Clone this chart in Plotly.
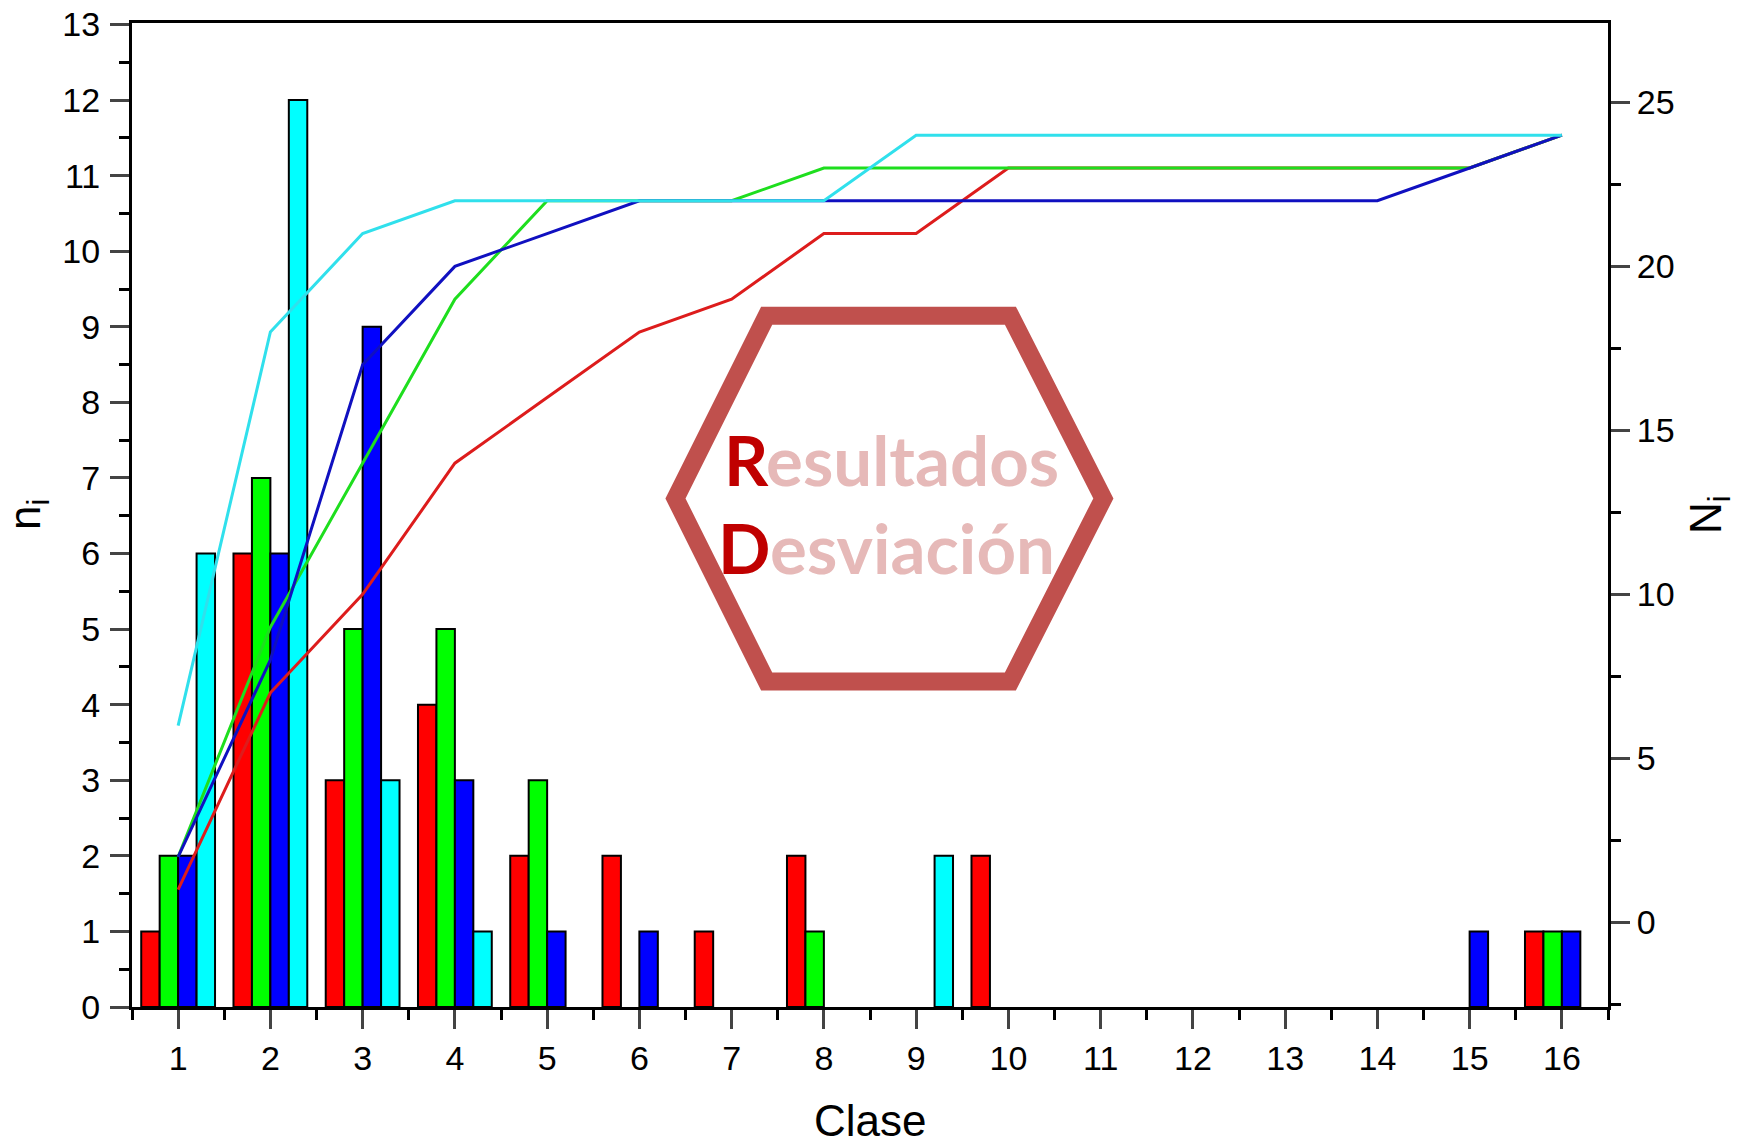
import plotly.graph_objects as go

# ---- data ----
classes = list(range(1, 17))
tick_labels = [str(c) for c in classes]

red_ni = [1, 6, 3, 4, 2, 2, 1, 2, 0, 2, 0, 0, 0, 0, 0, 1]
green_ni = [2, 7, 5, 5, 3, 0, 0, 1, 0, 0, 0, 0, 0, 0, 0, 1]
blue_ni = [2, 6, 9, 3, 1, 1, 0, 0, 0, 0, 0, 0, 0, 0, 1, 1]
cyan_ni = [6, 12, 3, 1, 0, 0, 0, 0, 2, 0, 0, 0, 0, 0, 0, 0]

red_Ni = [1, 7, 10, 14, 16, 18, 19, 21, 21, 23, 23, 23, 23, 23, 23, 24]
green_Ni = [2, 9, 14, 19, 22, 22, 22, 23, 23, 23, 23, 23, 23, 23, 23, 24]
blue_Ni = [2, 8, 17, 20, 21, 22, 22, 22, 22, 22, 22, 22, 22, 22, 23, 24]
cyan_Ni = [6, 18, 21, 22, 22, 22, 22, 22, 24, 24, 24, 24, 24, 24, 24, 24]

bar_colors = ["#ff0000", "#00ff00", "#0000ff", "#00ffff"]
line_colors = ["#dd1c1c", "#1ede1e", "#1010c0", "#30e0ec"]

W, H = 1752, 1143
L, R, T, B = 124, 152, 15, 144

fig = go.Figure()
for vals, col in zip([red_ni, green_ni, blue_ni, cyan_ni], bar_colors):
    fig.add_trace(go.Bar(x=classes, y=[v if v else None for v in vals],
                         marker=dict(color=col, line=dict(color="black", width=2)),
                         yaxis="y", showlegend=False))
for vals, col in zip([red_Ni, green_Ni, blue_Ni, cyan_Ni], line_colors):
    fig.add_trace(go.Scatter(x=classes, y=vals, mode="lines", line=dict(color=col, width=3),
                             yaxis="y2", showlegend=False))

tickfont = dict(family="Liberation Sans, Arial", size=34, color="black")

fig.update_layout(
    width=W, height=H,
    margin=dict(l=L, r=R, t=T, b=B, autoexpand=False),
    paper_bgcolor="white", plot_bgcolor="white",
    barmode="group", bargap=0.2, bargroupgap=0,
    xaxis=dict(range=[0.5, 16.5], tickvals=classes, ticktext=tick_labels, ticks="outside",
               ticklen=19, tickwidth=3, showline=True, linewidth=3, linecolor="black",
               mirror=True, showgrid=False, zeroline=False, tickfont=tickfont,
               minor=dict(tick0=0.5, dtick=1, ticks="outside", ticklen=10, tickwidth=3, tickcolor="black")),
    yaxis=dict(range=[0, 13.02], tick0=0, dtick=1, ticks="outside", ticklen=19, tickwidth=3,
               showline=True, linewidth=3, linecolor="black", showgrid=False, zeroline=False,
               tickfont=tickfont, ticklabelstandoff=3, ticklabeloverflow="allow",
               minor=dict(tick0=0, dtick=0.5, ticks="outside", ticklen=10, tickwidth=3, tickcolor="black")),
    yaxis2=dict(range=[-2.58, 27.42], overlaying="y", side="right", tick0=0, dtick=5, ticks="outside",
                ticklen=19, tickwidth=3, showline=True, linewidth=3, linecolor="black",
                showgrid=False, zeroline=False, tickfont=tickfont, ticklabeloverflow="allow",
                minor=dict(tick0=0, dtick=2.5, ticks="outside", ticklen=10, tickwidth=3, tickcolor="black")),
)

pw, ph = W - L - R, H - T - B
def px(x):
    return (x - L) / pw
def py(y):
    return (H - B - y) / ph

# hexagon watermark
hx = [(667.5, 490.5), (758.7, 307.6), (1002.4, 307.6), (1095.4, 490.5), (1002.4, 673.5), (758.7, 673.5)]
path = "M " + " L ".join(f"{px(a):.4f},{py(b):.4f}" for a, b in hx) + " Z"
fig.add_shape(type="path", path=path, xref="paper", yref="paper",
              line=dict(color="#c0504d", width=18), fillcolor="rgba(0,0,0,0)", layer="above")

wm_font = dict(family="Lato, Open Sans", size=69, color="#e6b9b8")
fig.add_annotation(x=px(714), y=py(451), xref="paper", yref="paper", xanchor="left", yanchor="middle",
                   text="<b><span style='color:#c00000'>R</span>esultados</b>", showarrow=False, font=wm_font)
fig.add_annotation(x=px(708), y=py(540), xref="paper", yref="paper", xanchor="left", yanchor="middle",
                   text="<b><span style='color:#c00000'>D</span>esviación</b>", showarrow=False, font=wm_font)

title_font = dict(family="Liberation Sans, Arial", size=44, color="black")
fig.add_annotation(x=px(20), y=0.5, xref="paper", yref="paper", text="n<sub>i</sub>", textangle=-90,
                   showarrow=False, font=title_font, xanchor="center", yanchor="middle")
fig.add_annotation(x=px(1701), y=0.5, xref="paper", yref="paper", text="N<sub>i</sub>", textangle=-90,
                   showarrow=False, font=title_font, xanchor="center", yanchor="middle")
fig.add_annotation(x=0.5, y=py(1112), xref="paper", yref="paper", text="Clase",
                   showarrow=False, font=dict(family="Liberation Sans, Arial", size=44, color="black"),
                   xanchor="center", yanchor="middle")

fig.write_html("out.html")
